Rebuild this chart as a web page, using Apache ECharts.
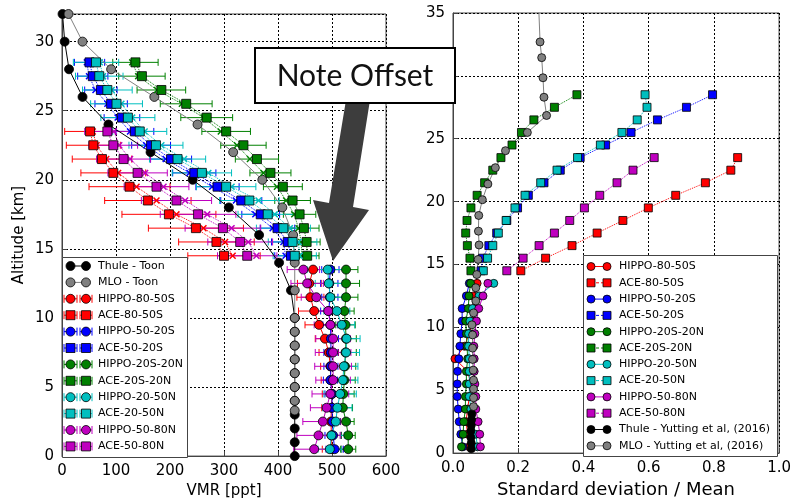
<!DOCTYPE html>
<html>
<head>
<meta charset="utf-8">
<script src="https://cdn.jsdelivr.net/npm/echarts@6/dist/echarts.min.js"></script>
<style>
  html, body { margin: 0; padding: 0; background: #fff; }
  #chart { width: 794px; height: 504px; }
</style>
</head>
<body>
<div id="chart"></div>
<script>
// altitude levels [km]
const hippoAlt = [0.5, 1.5, 2.5, 3.5, 4.5, 5.5, 6.5, 7.5, 8.5, 9.5, 10.5, 11.5, 12.5, 13.5]
const aceAlt = [14.5, 15.5, 16.5, 17.5, 18.5, 19.5, 20.5, 21.5, 22.5, 23.5, 24.5, 25.5, 26.5, 27.5, 28.5]

// --- left panel: VMR [ppt] ---
const thuleToonAlt = [32, 30, 28, 26, 24, 22, 20, 18, 16, 14, 12, 10, 9, 8, 7, 6, 5, 4, 3, 2, 1, 0]
const thuleToonVmr = [1, 5, 13, 38, 86, 164, 242, 309, 365, 402, 424, 431, 431, 431, 431, 431, 431, 431, 431, 431, 431, 431]
const mloToonAlt = [32, 30, 28, 26, 24, 22, 20, 18, 16, 14, 12, 10, 9, 8, 7, 6, 5, 4, 3.3]
const mloToonVmr = [12, 38, 91, 171, 251, 317, 371, 408, 428, 431, 431, 431, 431, 431, 431, 431, 431, 431, 431]

const hippoVmr8050S = [500, 499, 498, 499, 500, 498, 497, 494, 487, 476, 467, 460, 458, 465]
const hippoVmr5020S = [505, 502, 501, 500, 500, 497, 498, 498, 498, 497, 494, 496, 495, 497]
const hippoVmr20S20N = [530, 530, 526, 520, 521, 523, 524, 525, 526, 525, 523, 526, 526, 526]
const hippoVmr2050N = [496, 499, 507, 510, 515, 520, 522, 526, 527, 518, 509, 497, 494, 492]
const hippoVmr5080N = [467, 475, 483, 490, 497, 502, 502, 502, 502, 497, 493, 471, 454, 447]

const hippoErr8050S = [18, 18, 18, 18, 18, 18, 18, 18, 18, 26, 29, 25, 22, 22]
const hippoErr5020S = [16, 15, 14, 14, 13, 13, 13, 13, 14, 14, 15, 15, 16, 16]
const hippoErr20S20N = [14, 13, 15, 18, 20, 20, 20, 20, 19, 18, 18, 22, 25, 22]
const hippoErr2050N = [22, 24, 26, 27, 30, 28, 26, 25, 25, 24, 24, 22, 25, 38]
const hippoErr5080N = [38, 40, 37, 30, 34, 32, 34, 33, 32, 30, 30, 28, 30, 30]

const aceVmr8050S = [300, 286, 248, 198, 159, 125, 95, 74, 58, 52]
const aceVmr5020S = [424, 418, 399, 368, 332, 288, 245, 202, 165, 135, 111, 91, 72, 57, 51]
const aceVmr20S20N = [454, 453, 448, 440, 427, 409, 386, 361, 336, 304, 268, 230, 184, 148, 136]
const aceVmr2050N = [431, 427, 410, 381, 347, 304, 259, 214, 174, 144, 122, 101, 84, 69, 63]
const aceVmr5080N = [343, 330, 298, 252, 212, 175, 140, 114, 95, 84]

const aceErr8050S = [67, 70, 88, 87, 80, 75, 60, 55, 50, 47]
const aceErr5020S = [30, 30, 32, 35, 38, 40, 40, 38, 36, 35, 33, 30, 30, 28, 28]
const aceErr20S20N = [22, 25, 28, 30, 33, 36, 38, 40, 42, 45, 48, 48, 45, 43, 42]
const aceErr2050N = [40, 45, 50, 55, 55, 55, 55, 52, 50, 50, 50, 48, 46, 44, 42]
const aceErr5080N = [55, 60, 70, 70, 65, 60, 55, 50, 45, 42]

// un-offset ACE points (x markers)
const aceRaw8050S = [316, 302, 262, 212, 175, 138, 104, 82, 64, 57]
const aceRaw5020S = [414, 410, 390, 358, 322, 278, 236, 192, 156, 126, 103, 84, 62, 50, 46]
const aceRaw20S20N = [444, 443, 438, 430, 415, 398, 373, 348, 324, 294, 262, 222, 176, 141, 130]
const aceRaw2050N = [440, 438, 422, 394, 364, 314, 271, 226, 184, 153, 130, 110, 92, 76, 70]
const aceRaw5080N = [360, 345, 314, 269, 228, 188, 154, 126, 106, 96]

// --- right panel: standard deviation / mean ---
const hippoSd8050S = [0.05, 0.045, 0.04, 0.045, 0.05, 0.055, 0.045, 0.006, 0.035, 0.05, 0.06, 0.065, 0.062, 0.074]
const hippoSd5020S = [0.030, 0.024, 0.019, 0.016, 0.013, 0.013, 0.014, 0.018, 0.021, 0.024, 0.028, 0.028, 0.041, 0.05]
const hippoSd20S20N = [0.026, 0.031, 0.033, 0.038, 0.038, 0.041, 0.041, 0.045, 0.043, 0.041, 0.039, 0.047, 0.049, 0.054]
const hippoSd2050N = [0.075, 0.07, 0.06, 0.055, 0.05, 0.05, 0.05, 0.05, 0.048, 0.048, 0.052, 0.06, 0.08, 0.125]
const hippoSd5080N = [0.084, 0.082, 0.077, 0.07, 0.07, 0.067, 0.065, 0.065, 0.064, 0.067, 0.072, 0.079, 0.092, 0.107]

const aceSd8050S = [0.208, 0.284, 0.365, 0.442, 0.521, 0.599, 0.683, 0.774, 0.852, 0.873]
const aceSd5020S = [0.086, 0.091, 0.11, 0.134, 0.165, 0.198, 0.231, 0.279, 0.329, 0.39, 0.468, 0.546, 0.627, 0.716, 0.796]
const aceSd20S20N = [0.055, 0.052, 0.044, 0.039, 0.043, 0.055, 0.074, 0.097, 0.122, 0.147, 0.181, 0.21, 0.248, 0.311, 0.38]
const aceSd2050N = [0.093, 0.106, 0.122, 0.139, 0.163, 0.19, 0.221, 0.269, 0.319, 0.382, 0.452, 0.518, 0.565, 0.595, 0.589]
const aceSd5080N = [0.165, 0.215, 0.264, 0.311, 0.358, 0.403, 0.45, 0.503, 0.552, 0.617]

const thuleYutAlt = [0.35, 0.8, 1.25, 1.75, 2.2, 2.65, 3.1]
const thuleYutSd = [0.056, 0.056, 0.055, 0.055, 0.056, 0.057, 0.058]
const mloYutAlt = [3.7, 4.4, 5.1, 5.8, 6.6, 7.45, 8.35, 9.4, 10.2, 11.15, 12.1, 13.15, 14.2, 15.4, 16.55, 17.65, 18.9, 20.15, 21.4, 22.7, 24.05, 25.5, 26.85, 28.3, 29.85, 31.45, 32.7, 36]
const mloYutSd = [0.063, 0.063, 0.063, 0.063, 0.062, 0.06, 0.06, 0.06, 0.058, 0.063, 0.07, 0.07, 0.073, 0.077, 0.08, 0.078, 0.079, 0.09, 0.107, 0.13, 0.161, 0.228, 0.287, 0.279, 0.276, 0.272, 0.267, 0.262]

const legendLeft = ['Thule - Toon', 'MLO - Toon', 'HIPPO-80-50S', 'ACE-80-50S', 'HIPPO-50-20S', 'ACE-50-20S',
  'HIPPO-20S-20N', 'ACE-20S-20N', 'HIPPO-20-50N', 'ACE-20-50N', 'HIPPO-50-80N', 'ACE-50-80N']
const legendRight = ['HIPPO-80-50S', 'ACE-80-50S', 'HIPPO-50-20S', 'ACE-50-20S', 'HIPPO-20S-20N', 'ACE-20S-20N',
  'HIPPO-20-50N', 'ACE-20-50N', 'HIPPO-50-80N', 'ACE-50-80N', 'Thule - Yutting et al, (2016)', 'MLO - Yutting et al, (2016)']

const RED = '#ff0000', BLUE = '#0000ff', GREEN = '#008000', CYAN = '#00bfbf', MAG = '#bf00bf'
const FONT = 'DejaVu Sans'
const XSYM = 'path://M0,1.5L1.5,0L5,3.5L8.5,0L10,1.5L6.5,5L10,8.5L8.5,10L5,6.5L1.5,10L0,8.5L3.5,5Z'

const bands = [
  { color: RED, hv: hippoVmr8050S, he: hippoErr8050S, av: aceVmr8050S, ae: aceErr8050S, ar: aceRaw8050S, hs: hippoSd8050S, as: aceSd8050S },
  { color: BLUE, hv: hippoVmr5020S, he: hippoErr5020S, av: aceVmr5020S, ae: aceErr5020S, ar: aceRaw5020S, hs: hippoSd5020S, as: aceSd5020S },
  { color: GREEN, hv: hippoVmr20S20N, he: hippoErr20S20N, av: aceVmr20S20N, ae: aceErr20S20N, ar: aceRaw20S20N, hs: hippoSd20S20N, as: aceSd20S20N },
  { color: CYAN, hv: hippoVmr2050N, he: hippoErr2050N, av: aceVmr2050N, ae: aceErr2050N, ar: aceRaw2050N, hs: hippoSd2050N, as: aceSd2050N },
  { color: MAG, hv: hippoVmr5080N, he: hippoErr5080N, av: aceVmr5080N, ae: aceErr5080N, ar: aceRaw5080N, hs: hippoSd5080N, as: aceSd5080N }
]

function pairs (vals, alts) {
  return vals.map((v, i) => [v, alts[i]])
}

function lineSeries (g, vals, alts, color, symbol, size, dash, edge) {
  return {
    type: 'line',
    xAxisIndex: g,
    yAxisIndex: g,
    data: pairs(vals, alts),
    symbol: symbol,
    symbolSize: size,
    clip: true,
    animation: false,
    silent: true,
    lineStyle: { color: color, width: 1, type: dash },
    itemStyle: { color: color, borderColor: edge ? '#000' : color, borderWidth: edge ? 0.8 : 0 }
  }
}

function errSeries (g, vals, errs, alts, color) {
  return {
    type: 'custom',
    xAxisIndex: g,
    yAxisIndex: g,
    silent: true,
    animation: false,
    clip: true,
    data: vals.map((v, i) => [v, alts[i], errs[i]]),
    encode: { x: 0, y: 1 },
    renderItem: function (params, api) {
      const x = api.value(0), y = api.value(1), e = api.value(2)
      const a = api.coord([x - e, y]), b = api.coord([x + e, y])
      const st = { stroke: color, lineWidth: 1 }
      return {
        type: 'group',
        children: [
          { type: 'line', shape: { x1: a[0], y1: a[1], x2: b[0], y2: b[1] }, style: st },
          { type: 'line', shape: { x1: a[0], y1: a[1] - 3.5, x2: a[0], y2: a[1] + 3.5 }, style: st },
          { type: 'line', shape: { x1: b[0], y1: b[1] - 3.5, x2: b[0], y2: b[1] + 3.5 }, style: st }
        ]
      }
    }
  }
}

const series = []
series.push(lineSeries(0, thuleToonVmr, thuleToonAlt, '#000', 'circle', 9, 'solid', true))
series.push(lineSeries(0, mloToonVmr, mloToonAlt, '#808080', 'circle', 9, 'solid', true))
bands.forEach(b => {
  series.push(errSeries(0, b.hv, b.he, hippoAlt, b.color))
  series.push(lineSeries(0, b.hv, hippoAlt, b.color, 'circle', 9, 'solid', true))
  series.push(errSeries(0, b.av, b.ae, aceAlt, b.color))
  series.push(lineSeries(0, b.ar, aceAlt, b.color, XSYM, 7, 'dotted', false))
  series.push(lineSeries(0, b.av, aceAlt, b.color, 'rect', 9, 'dotted', true))
})
bands.forEach(b => {
  series.push(lineSeries(1, b.hs, hippoAlt, b.color, 'circle', 8, 'solid', true))
  series.push(lineSeries(1, b.as, aceAlt, b.color, 'rect', 8, 'dotted', true))
})
series.push(lineSeries(1, thuleYutSd, thuleYutAlt, '#000', 'circle', 8, 'solid', true))
series.push(lineSeries(1, mloYutSd, mloYutAlt, '#808080', 'circle', 8, 'solid', true))

// legend boxes drawn as graphics
const graphics = []
const bandColors = [RED, BLUE, GREEN, CYAN, MAG]

function marker (kind, cx, cy, color, r) {
  if (kind === 'rect') {
    return { type: 'rect', shape: { x: cx - r, y: cy - r, width: 2 * r, height: 2 * r }, style: { fill: color, stroke: '#000', lineWidth: 0.8 }, z: 102 }
  }
  return { type: 'circle', shape: { cx: cx, cy: cy, r: r }, style: { fill: color, stroke: '#000', lineWidth: 0.8 }, z: 102 }
}

graphics.push({ type: 'rect', shape: { x: 62.5, y: 257.5, width: 125, height: 200 }, style: { fill: '#fff', stroke: '#444', lineWidth: 1 }, z: 100 })
legendLeft.forEach((name, i) => {
  const y = 266 + i * 16.4
  let color, kind
  if (i < 2) {
    color = i === 0 ? '#000' : '#808080'
    kind = 'circle'
    graphics.push({ type: 'line', shape: { x1: 70, y1: y, x2: 86, y2: y }, style: { stroke: color, lineWidth: 1 }, z: 101 })
  } else {
    color = bandColors[Math.floor((i - 2) / 2)]
    kind = (i % 2 === 0) ? 'circle' : 'rect'
    ;[[64, 77], [80, 92]].forEach(p => {
      graphics.push({ type: 'line', shape: { x1: p[0], y1: y, x2: p[1], y2: y }, style: { stroke: color, lineWidth: 1 }, z: 101 })
      graphics.push({ type: 'line', shape: { x1: p[0], y1: y - 4, x2: p[0], y2: y + 4 }, style: { stroke: color, lineWidth: 1 }, z: 101 })
      graphics.push({ type: 'line', shape: { x1: p[1], y1: y - 4, x2: p[1], y2: y + 4 }, style: { stroke: color, lineWidth: 1 }, z: 101 })
    })
  }
  graphics.push(marker(kind, 70.5, y, color, kind === 'rect' ? 4.5 : 4.5))
  graphics.push(marker(kind, 86, y, color, 4.5))
  graphics.push({ type: 'text', x: 98, y: y, style: { text: name, font: '11px "DejaVu Sans"', fill: '#000', verticalAlign: 'middle' }, z: 102 })
})

graphics.push({ type: 'rect', shape: { x: 583.5, y: 255.5, width: 194, height: 201 }, style: { fill: '#fff', stroke: '#444', lineWidth: 1 }, z: 100 })
legendRight.forEach((name, i) => {
  const y = 266.5 + i * 16.3
  let color, kind, dash
  if (i >= 10) {
    color = i === 10 ? '#000' : '#808080'
    kind = 'circle'
    dash = null
  } else {
    color = bandColors[Math.floor(i / 2)]
    kind = (i % 2 === 0) ? 'circle' : 'rect'
    dash = (i % 2 === 0) ? null : [3, 2]
  }
  graphics.push({ type: 'line', shape: { x1: 591, y1: y, x2: 607, y2: y }, style: { stroke: color, lineWidth: 1, lineDash: dash }, z: 101 })
  graphics.push(marker(kind, 591, y, color, 4))
  graphics.push(marker(kind, 607, y, color, 4))
  graphics.push({ type: 'text', x: 619, y: y, style: { text: name, font: '11px "DejaVu Sans"', fill: '#000', verticalAlign: 'middle' }, z: 102 })
})

// "Note Offset" annotation
graphics.push({
  type: 'polygon',
  shape: { points: [[346, 100], [370, 100], [353, 207], [369, 210], [333, 261], [313, 200], [329, 203]] },
  style: { fill: '#3d3d3d' },
  z: 110
})
graphics.push({ type: 'rect', shape: { x: 255, y: 48, width: 200, height: 55 }, style: { fill: '#fff', stroke: '#000', lineWidth: 2 }, z: 111 })
graphics.push({ type: 'text', x: 355, y: 76, style: { text: 'Note Offset', font: '30px Lato', fill: '#111', align: 'center', verticalAlign: 'middle' }, z: 112 })

function axisCommon () {
  return {
    axisLine: { show: true, lineStyle: { color: '#444', width: 1 } },
    axisTick: { show: true, inside: true, length: 5, lineStyle: { color: '#444' } },
    splitLine: { show: true, lineStyle: { color: '#000', type: [2, 2], width: 1 } },
    axisLabel: { color: '#000', fontSize: 15, fontFamily: FONT }
  }
}

const chart = echarts.init(document.getElementById('chart'), null, { renderer: 'canvas' })
chart.setOption({
  backgroundColor: '#fff',
  animation: false,
  grid: [
    { left: 62, top: 14, width: 324, height: 446, show: true, borderColor: '#444', borderWidth: 1, backgroundColor: 'transparent' },
    { left: 453, top: 13, width: 330, height: 448, show: true, borderColor: '#444', borderWidth: 1, backgroundColor: 'transparent' }
  ],
  xAxis: [
    Object.assign(axisCommon(), {
      type: 'value', gridIndex: 0, min: 0, max: 600, interval: 100,
      name: 'VMR [ppt]', nameLocation: 'middle', nameGap: 27,
      nameTextStyle: { fontSize: 15, fontFamily: FONT, color: '#000' }
    }),
    Object.assign(axisCommon(), {
      type: 'value', gridIndex: 1, min: 0, max: 1, interval: 0.2,
      name: 'Standard deviation / Mean', nameLocation: 'middle', nameGap: 25,
      nameTextStyle: { fontSize: 18, fontFamily: FONT, color: '#000' }
    })
  ],
  yAxis: [
    Object.assign(axisCommon(), {
      type: 'value', gridIndex: 0, min: 0, max: 32, interval: 5,
      name: 'Altitude [km]', nameLocation: 'middle', nameGap: 35, nameRotate: 90,
      nameTextStyle: { fontSize: 15, fontFamily: FONT, color: '#000' }
    }),
    Object.assign(axisCommon(), {
      type: 'value', gridIndex: 1, min: 0, max: 35, interval: 5
    })
  ],
  series: series,
  graphic: { elements: graphics }
})

// tidy up label formats
chart.setOption({
  xAxis: [{}, { axisLabel: { formatter: v => v.toFixed(1) } }],
  yAxis: [{ axisLabel: { formatter: v => (v % 5 === 0 ? String(v) : '') }, splitLine: { lineStyle: { color: '#000', type: [2, 2] } } }, {}]
})
</script>
</body>
</html>
